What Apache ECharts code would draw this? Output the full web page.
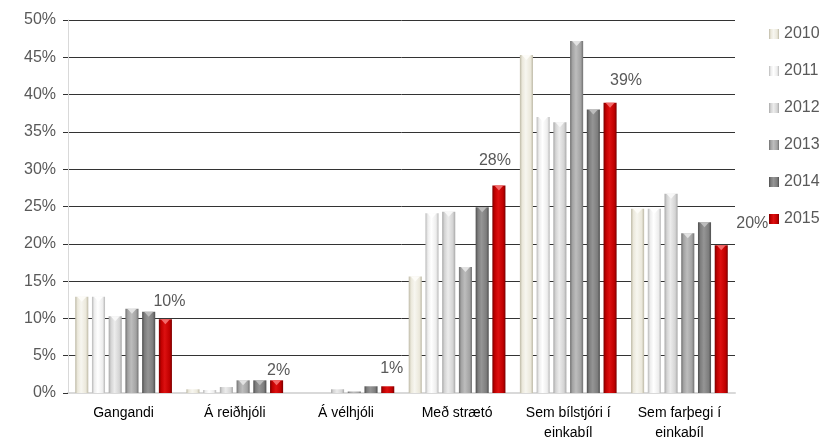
<!DOCTYPE html>
<html>
<head>
<meta charset="utf-8">
<script src="https://cdn.jsdelivr.net/npm/echarts@6/dist/echarts.min.js"></script>
<style>
  html, body { margin: 0; padding: 0; background: #fff; }
  #chart { width: 829px; height: 446px; }
</style>
</head>
<body>
<div id="chart"></div>
<script>
// flokkar og gögn (hlutfall í %)
var categories = ['Gangandi', 'Á reiðhjóli', 'Á vélhjóli', 'Með strætó', 'Sem bílstjóri í\neinkabíl', 'Sem farþegi í\neinkabíl'];
var years = ['2010', '2011', '2012', '2013', '2014', '2015'];
var v2010 = [12.9, 0.5, 0, 15.6, 45.3, 24.7];
var v2011 = [12.9, 0.4, 0, 24.1, 37.0, 24.7];
var v2012 = [10.3, 0.8, 0.5, 24.3, 36.3, 26.7];
var v2013 = [11.3, 1.7, 0.2, 16.9, 47.2, 21.4];
var v2014 = [10.9, 1.7, 0.9, 24.9, 38.0, 22.9];
var v2015 = [9.9, 1.7, 0.9, 27.8, 38.9, 19.8];
var yTicks = [0, 5, 10, 15, 20, 25, 30, 35, 40, 45, 50];

window.onload = function () {
    var chart = echarts.init(document.getElementById('chart'));
    var font = "'Liberation Sans', Arial, sans-serif";

    // litir: [kantur, grunnur, ljósasti, toppur]
    var shades = [
        ['#bdb9a6', '#ebe8db', '#f7f6f0', '#fdfcf8'],
        ['#b8b8b8', '#ededed', '#ffffff', '#ffffff'],
        ['#a8a8a8', '#d4d4d4', '#ececec', '#f8f8f8'],
        ['#707070', '#a3a3a3', '#bdbdbd', '#e2e2e2'],
        ['#4d4d4d', '#7d7d7d', '#959595', '#bdbdbd'],
        ['#7a0000', '#c00000', '#dd1010', '#f26a6a']
    ];
    function grad(s) {
        return new echarts.graphic.LinearGradient(0, 0, 1, 0, [
            { offset: 0, color: s[0] },
            { offset: 0.18, color: s[1] },
            { offset: 0.45, color: s[2] },
            { offset: 0.82, color: s[1] },
            { offset: 1, color: s[0] }
        ]);
    }

    var values = [v2010, v2011, v2012, v2013, v2014, v2015];
    var labelOffsets = [[4, -5], [2, 3], [4, -5], [-4, -12], [16, -9], [31, -9]];

    var series = years.map(function (y, i) {
        var s = {
            name: y,
            type: 'bar',
            data: values[i],
            barGap: '28%',
            barCategoryGap: '13%',
            itemStyle: { color: grad(shades[i]) }
        };
        if (i === 5) {
            s.data = values[i].map(function (v, j) {
                return { value: v, label: { offset: labelOffsets[j] } };
            });
            s.label = {
                show: true,
                position: 'top',
                distance: 5,
                color: '#595959',
                fontSize: 16,
                fontFamily: font,
                formatter: function (p) { return Math.round(p.value) + '%'; }
            };
        }
        return s;
    });

    // litlir þríhyrningar efst á súlunum (skábrún)
    years.forEach(function (y, i) {
        series.push({
            name: y + ' toppur',
            type: 'pictorialBar',
            data: values[i].map(function (v) { return v >= 1 ? v : '-'; }),
            barGap: '28%',
            barCategoryGap: '13%',
            symbol: 'triangle',
            symbolRotate: 180,
            symbolSize: [9, 5],
            symbolPosition: 'end',
            symbolOffset: [0, 0],
            itemStyle: { color: shades[i][3] },
            silent: true,
            z: 3
        });
    });

    chart.setOption({
        animation: false,
        textStyle: { fontFamily: font },
        grid: { left: 68, right: 94, top: 20, bottom: 53 },
        legend: {
            orient: 'vertical',
            left: 764,
            top: 21,
            itemWidth: 10,
            itemHeight: 10,
            itemGap: 21,
            icon: 'rect',
            textStyle: { color: '#595959', fontSize: 16, fontFamily: font },
            data: years
        },
        xAxis: {
            type: 'category',
            data: categories,
            axisLine: { lineStyle: { color: '#d9d9d9', width: 2 } },
            axisTick: { show: false },
            axisLabel: { color: '#000', fontSize: 14, lineHeight: 20, margin: 10, fontFamily: font }
        },
        yAxis: {
            type: 'value',
            min: 0,
            max: 50,
            interval: 5,
            axisLine: { show: true, lineStyle: { color: '#d9d9d9' } },
            axisTick: { show: true, length: 5, lineStyle: { color: '#333' } },
            splitLine: { lineStyle: { color: '#333', width: 1 } },
            axisLabel: {
                color: '#595959',
                fontSize: 16,
                margin: 12,
                fontFamily: font,
                formatter: function (v) { return yTicks.indexOf(v) >= 0 ? v + '%' : ''; }
            }
        },
        series: series
    });
};
</script>
</body>
</html>
